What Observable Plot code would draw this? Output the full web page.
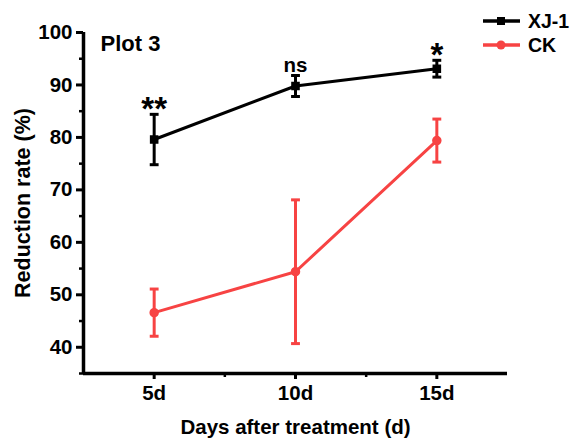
<!DOCTYPE html>
<html>
<head>
<meta charset="utf-8">
<script src="https://cdn.jsdelivr.net/npm/d3@7"></script>
<script src="https://cdn.jsdelivr.net/npm/@observablehq/plot@0.6"></script>
<style>
  html, body { margin: 0; padding: 0; background: #fff; }
  #wrap { position: relative; width: 575px; height: 440px; font-family: "Liberation Sans", Arial, sans-serif; overflow: hidden; }
  #legend { position: absolute; left: 482px; top: 9px; font-weight: bold; font-size: 19.5px; color: #000; white-space: nowrap; width: 92px; }
  .row { display: flex; align-items: center; height: 24px; white-space: nowrap; }
  .row svg { margin-right: 7px; flex: none; }
  g[aria-label="x-axis tick label"], g[aria-label="y-axis tick label"] { font-size: 20.5px !important; font-weight: bold; }
  g[aria-label="x-axis label"] { font-size: 20.5px !important; font-weight: bold; }
  g[aria-label="y-axis label"] { font-size: 21.5px !important; font-weight: bold; }
</style>
</head>
<body>
<div id="wrap"></div>
<script>
const days = [5, 10, 15];
const seriesNames = ["XJ-1", "CK"];
const xj1Mean = [79.6, 89.8, 93.1];
const xj1Err = [4.8, 2.0, 1.6];
const ckMean = [46.6, 54.4, 79.4];
const ckErr = [4.5, 13.7, 4.1];
const sigLabels = ["**", "ns", "*"];
const yTicks = [40, 50, 60, 70, 80, 90, 100];
const yMinor = [35, 45, 55, 65, 75, 85, 95];
const xMinor = [7.5, 12.5];
const colors = {"XJ-1": "#000000", "CK": "#f74343"};

const rows = [];
days.forEach((d, i) => {
  rows.push({series: "XJ-1", day: d, mean: xj1Mean[i], err: xj1Err[i]});
  rows.push({series: "CK", day: d, mean: ckMean[i], err: ckErr[i]});
});
const xj = rows.filter(r => r.series === "XJ-1");
const ck = rows.filter(r => r.series === "CK");
const sig = days.map((d, i) => ({day: d, top: xj1Mean[i] + xj1Err[i], label: sigLabels[i]}));
const sigStars = sig.filter(s => s.label !== "ns");
const sigNs = sig.filter(s => s.label === "ns");

const capSymbol = {
  draw(ctx, size) {
    const w = Math.sqrt(size) / 2;
    ctx.moveTo(-w, 0);
    ctx.lineTo(w, 0);
  }
};

function seriesMarks(data, color, symbol, r) {
  return [
    Plot.line(data, {x: "day", y: "mean", stroke: color, strokeWidth: 3}),
    Plot.ruleX(data, {x: "day", y1: d => d.mean - d.err, y2: d => d.mean + d.err, stroke: color, strokeWidth: 3}),
    Plot.dot(data, {x: "day", y: d => d.mean + d.err, symbol: capSymbol, r: 5, stroke: color, strokeWidth: 3}),
    Plot.dot(data, {x: "day", y: d => d.mean - d.err, symbol: capSymbol, r: 5, stroke: color, strokeWidth: 3}),
    Plot.dot(data, {x: "day", y: "mean", symbol, r, fill: color, stroke: color})
  ];
}

const chart = Plot.plot({
  width: 575,
  height: 440,
  marginLeft: 83,
  marginRight: 68,
  marginTop: 32,
  marginBottom: 67,
  style: {fontFamily: "Liberation Sans, Arial, sans-serif", fontWeight: "bold", fontSize: "20px", color: "#000", background: "#fff"},
  x: {domain: [2.5, 17.5]},
  y: {domain: [35, 100]},
  marks: [
    Plot.axisY({ticks: yMinor, tickSize: 4, strokeWidth: 2.5, text: null, label: null}),
    Plot.axisY({ticks: yTicks, tickSize: 7, strokeWidth: 3, tickPadding: 4,
      label: "Reduction rate (%)", labelAnchor: "center", labelArrow: "none", labelOffset: 69}),
    Plot.axisX({ticks: xMinor, tickSize: 4, strokeWidth: 2.5, text: null, label: null}),
    Plot.axisX({ticks: days, tickSize: 6, strokeWidth: 3, tickPadding: 6,
      tickFormat: d => d + "d", label: "Days after treatment (d)", labelAnchor: "center", labelArrow: "none", labelOffset: 60}),
    Plot.ruleX([2.5], {stroke: "#000", strokeWidth: 3.5}),
    Plot.ruleY([35], {stroke: "#000", strokeWidth: 3.5}),
    ...seriesMarks(ck, colors["CK"], "circle", 4),
    ...seriesMarks(xj, colors["XJ-1"], "square", 4),
    Plot.text(sigStars, {x: "day", y: "top", text: "label", lineAnchor: "bottom", dy: 6,
      fontSize: 33, fontWeight: "bold", fill: "#000"}),
    Plot.text(sigNs, {x: "day", y: "top", text: "label", lineAnchor: "bottom", dy: -4,
      fontSize: 20.5, fontWeight: "bold", fill: "#000"}),
    Plot.text(["Plot 3"], {frameAnchor: "top-left", dx: 17, dy: 3, fontSize: 22, fontWeight: "bold", fill: "#000", lineAnchor: "top"})
  ]
});

const wrap = document.getElementById("wrap");
wrap.appendChild(chart);

const legend = document.createElement("div");
legend.id = "legend";
seriesNames.forEach(name => {
  const row = document.createElement("div");
  row.className = "row";
  const c = colors[name];
  const marker = name === "XJ-1"
    ? `<rect x="15" y="5" width="8" height="8" fill="${c}"/>`
    : `<circle cx="19" cy="9" r="4.5" fill="${c}"/>`;
  row.innerHTML = `<svg width="39" height="18"><line x1="1" x2="38" y1="9" y2="9" stroke="${c}" stroke-width="3.5"/>${marker}</svg><span>${name}</span>`;
  legend.appendChild(row);
});
wrap.appendChild(legend);
</script>
</body>
</html>
